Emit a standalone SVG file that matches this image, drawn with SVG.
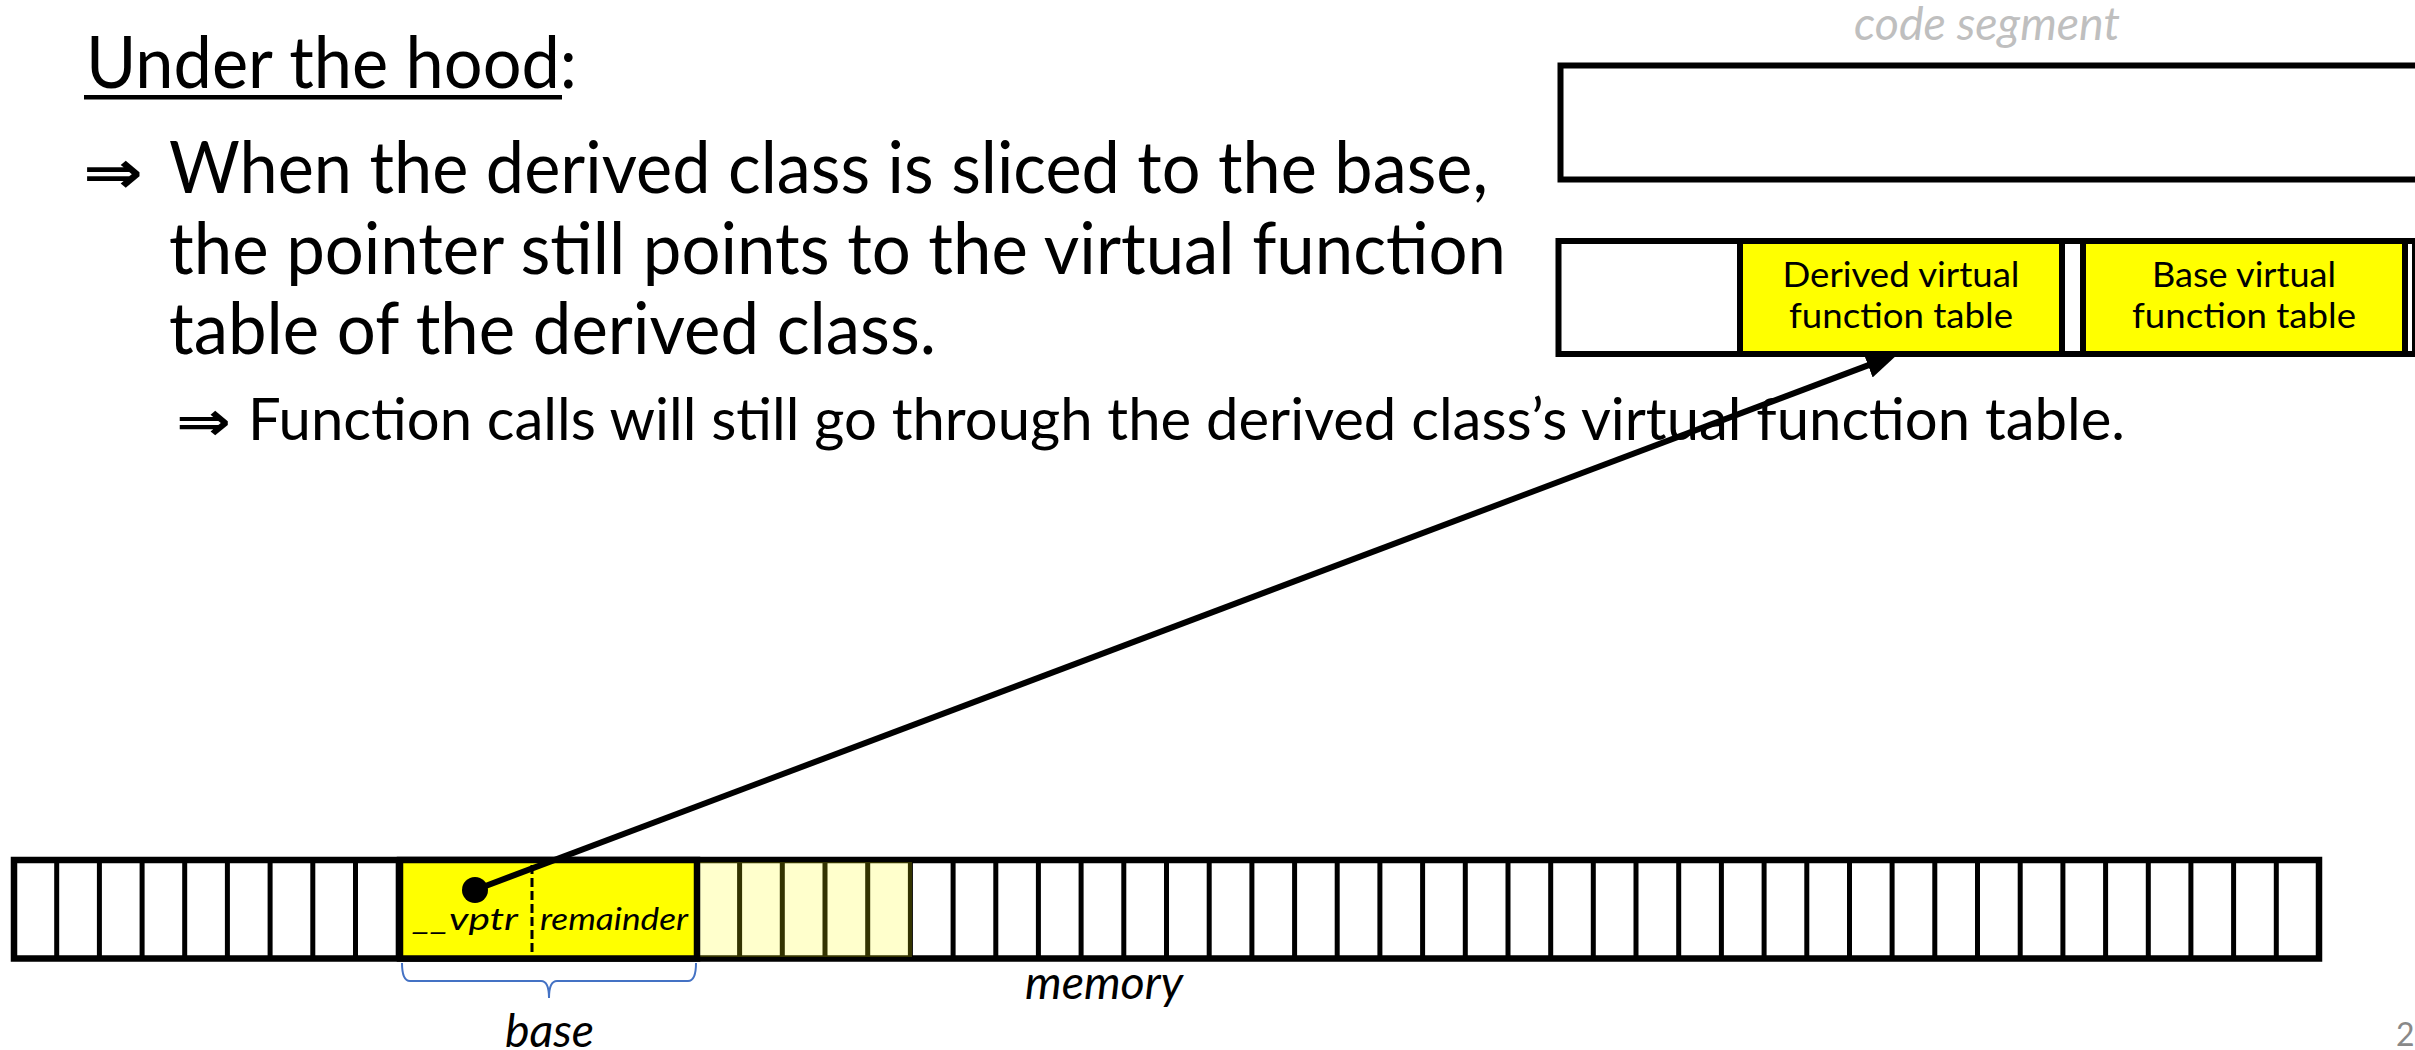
<svg xmlns="http://www.w3.org/2000/svg" width="2415" height="1050" viewBox="0 0 2415 1050">
<style>
  .body { font-family: Lato, "Liberation Sans", sans-serif; fill: #000; }
  .sym { font-family: "DejaVu Sans", sans-serif; font-weight: bold; fill: #000; }
  .comic { font-family: Lato, "Liberation Sans", sans-serif; fill: #000; }
  .lbl { font-family: Lato, "Liberation Sans", sans-serif; font-style: italic; }
  .box { stroke: #000; stroke-width: 6; }
  .white { fill: #FFFFFF; }
  .yellow { fill: #FFFF00; }
</style>
<defs>
  <marker id="arrow" markerUnits="userSpaceOnUse" markerWidth="32" markerHeight="26" viewBox="0 0 32 26" refX="2" refY="13" orient="auto">
    <path d="M0,0 L32,13 L0,26 z" fill="#000"/>
  </marker>
</defs>
<rect width="2415" height="1050" fill="#FFFFFF"/>

<g id="heading">
  <text class="body" x="86" y="88" font-size="72" textLength="491" lengthAdjust="spacingAndGlyphs">Under the hood:</text>
  <rect x="84" y="95" width="478" height="4.5" fill="#000"/>
</g>

<g id="bullet-1">
  <text class="sym" x="83" y="193" font-size="60" textLength="60" lengthAdjust="spacingAndGlyphs">⇒</text>
  <text class="body" x="169" y="193" font-size="72" textLength="1319" lengthAdjust="spacingAndGlyphs">When the derived class is sliced to the base,</text>
  <text class="body" x="169" y="274" font-size="72" textLength="1337" lengthAdjust="spacingAndGlyphs">the pointer still points to the virtual function</text>
  <text class="body" x="169" y="354" font-size="72" textLength="767" lengthAdjust="spacingAndGlyphs">table of the derived class.</text>
</g>

<g id="bullet-2">
  <text class="sym" x="176" y="440" font-size="54" textLength="55" lengthAdjust="spacingAndGlyphs">⇒</text>
  <text class="body" x="248" y="440" font-size="58" textLength="1877" lengthAdjust="spacingAndGlyphs">Function calls will still go through the derived class’s virtual function table.</text>
</g>

<g id="code-segment">
  <text class="lbl" x="1854" y="40" font-size="46" fill="#BFBFBF" textLength="266" lengthAdjust="spacingAndGlyphs">code segment</text>
  <rect class="box white" x="1560.5" y="65.5" width="900" height="114"/>
</g>

<g id="vtable-row">
  <rect class="box white" x="1558.5" y="241" width="900" height="113"/>
  <line x1="2414" y1="241" x2="2414" y2="354" stroke="#000" stroke-width="4"/>
</g>

<g id="derived-vtable">
  <rect class="box yellow" x="1740" y="241" width="322" height="113"/>
  <text class="comic" x="1901" y="287" font-size="35" text-anchor="middle" textLength="237" lengthAdjust="spacingAndGlyphs">Derived virtual</text>
  <text class="comic" x="1901" y="328" font-size="35" text-anchor="middle" textLength="224" lengthAdjust="spacingAndGlyphs">function table</text>
</g>

<g id="base-vtable">
  <rect class="box yellow" x="2083" y="241" width="322" height="113"/>
  <text class="comic" x="2244" y="287" font-size="35" text-anchor="middle" textLength="184" lengthAdjust="spacingAndGlyphs">Base virtual</text>
  <text class="comic" x="2244" y="328" font-size="35" text-anchor="middle" textLength="224" lengthAdjust="spacingAndGlyphs">function table</text>
</g>

<g id="memory">
  <rect x="14" y="860" width="2305" height="98.5" fill="#FFFFFF" stroke="#000" stroke-width="6.5"/>
  <path fill="none" stroke="#000" stroke-width="5" d="M56.7,860V958.5M99.4,860V958.5M142.1,860V958.5M184.7,860V958.5M227.4,860V958.5M270.1,860V958.5M312.8,860V958.5M355.5,860V958.5M398.2,860V958.5M440.9,860V958.5M483.5,860V958.5M526.2,860V958.5M568.9,860V958.5M611.6,860V958.5M654.3,860V958.5M697,860V958.5M739.6,860V958.5M782.3,860V958.5M825,860V958.5M867.7,860V958.5M910.4,860V958.5M953.1,860V958.5M995.8,860V958.5M1038.4,860V958.5M1081.1,860V958.5M1123.8,860V958.5M1166.5,860V958.5M1209.2,860V958.5M1251.9,860V958.5M1294.6,860V958.5M1337.2,860V958.5M1379.9,860V958.5M1422.6,860V958.5M1465.3,860V958.5M1508,860V958.5M1550.7,860V958.5M1593.3,860V958.5M1636,860V958.5M1678.7,860V958.5M1721.4,860V958.5M1764.1,860V958.5M1806.8,860V958.5M1849.5,860V958.5M1892.1,860V958.5M1934.8,860V958.5M1977.5,860V958.5M2020.2,860V958.5M2062.9,860V958.5M2105.6,860V958.5M2148.3,860V958.5M2190.9,860V958.5M2233.6,860V958.5M2276.3,860V958.5"/>
  <rect x="700" y="862" width="212" height="95" fill="#FFFF00" fill-opacity="0.2"/>
  <text class="lbl" x="1025" y="999" font-size="46" fill="#000" textLength="158" lengthAdjust="spacingAndGlyphs">memory</text>
</g>

<g id="base-object">
  <rect x="400" y="860" width="297" height="98.5" fill="#FFFF00" stroke="#000" stroke-width="6.5"/>
  <line x1="532" y1="865" x2="532" y2="952" stroke="#000" stroke-width="3" stroke-dasharray="9 4"/>
  <text class="lbl" x="413" y="930" font-size="31" fill="#000" textLength="105" lengthAdjust="spacingAndGlyphs">__vptr</text>
  <text class="lbl" x="540" y="930" font-size="31" fill="#000" textLength="148" lengthAdjust="spacingAndGlyphs">remainder</text>
  <path d="M402,963 Q402,981 410,981 H541 Q549,981 549,998 Q549,981 557,981 H688 Q696,981 696,963" fill="none" stroke="#4472C4" stroke-width="2"/>
  <text class="lbl" x="505" y="1047" font-size="46" fill="#000" textLength="89" lengthAdjust="spacingAndGlyphs">base</text>
</g>

<g id="page-number">
  <text class="body" x="2396" y="1046" font-size="32" style="fill:#898989">23</text>
</g>

<g id="connectors">
  <circle cx="475" cy="890" r="13" fill="#000"/>
  <line x1="475" y1="890" x2="1869.9" y2="364.6" stroke="#000" stroke-width="6" marker-end="url(#arrow)"/>
</g>
</svg>
